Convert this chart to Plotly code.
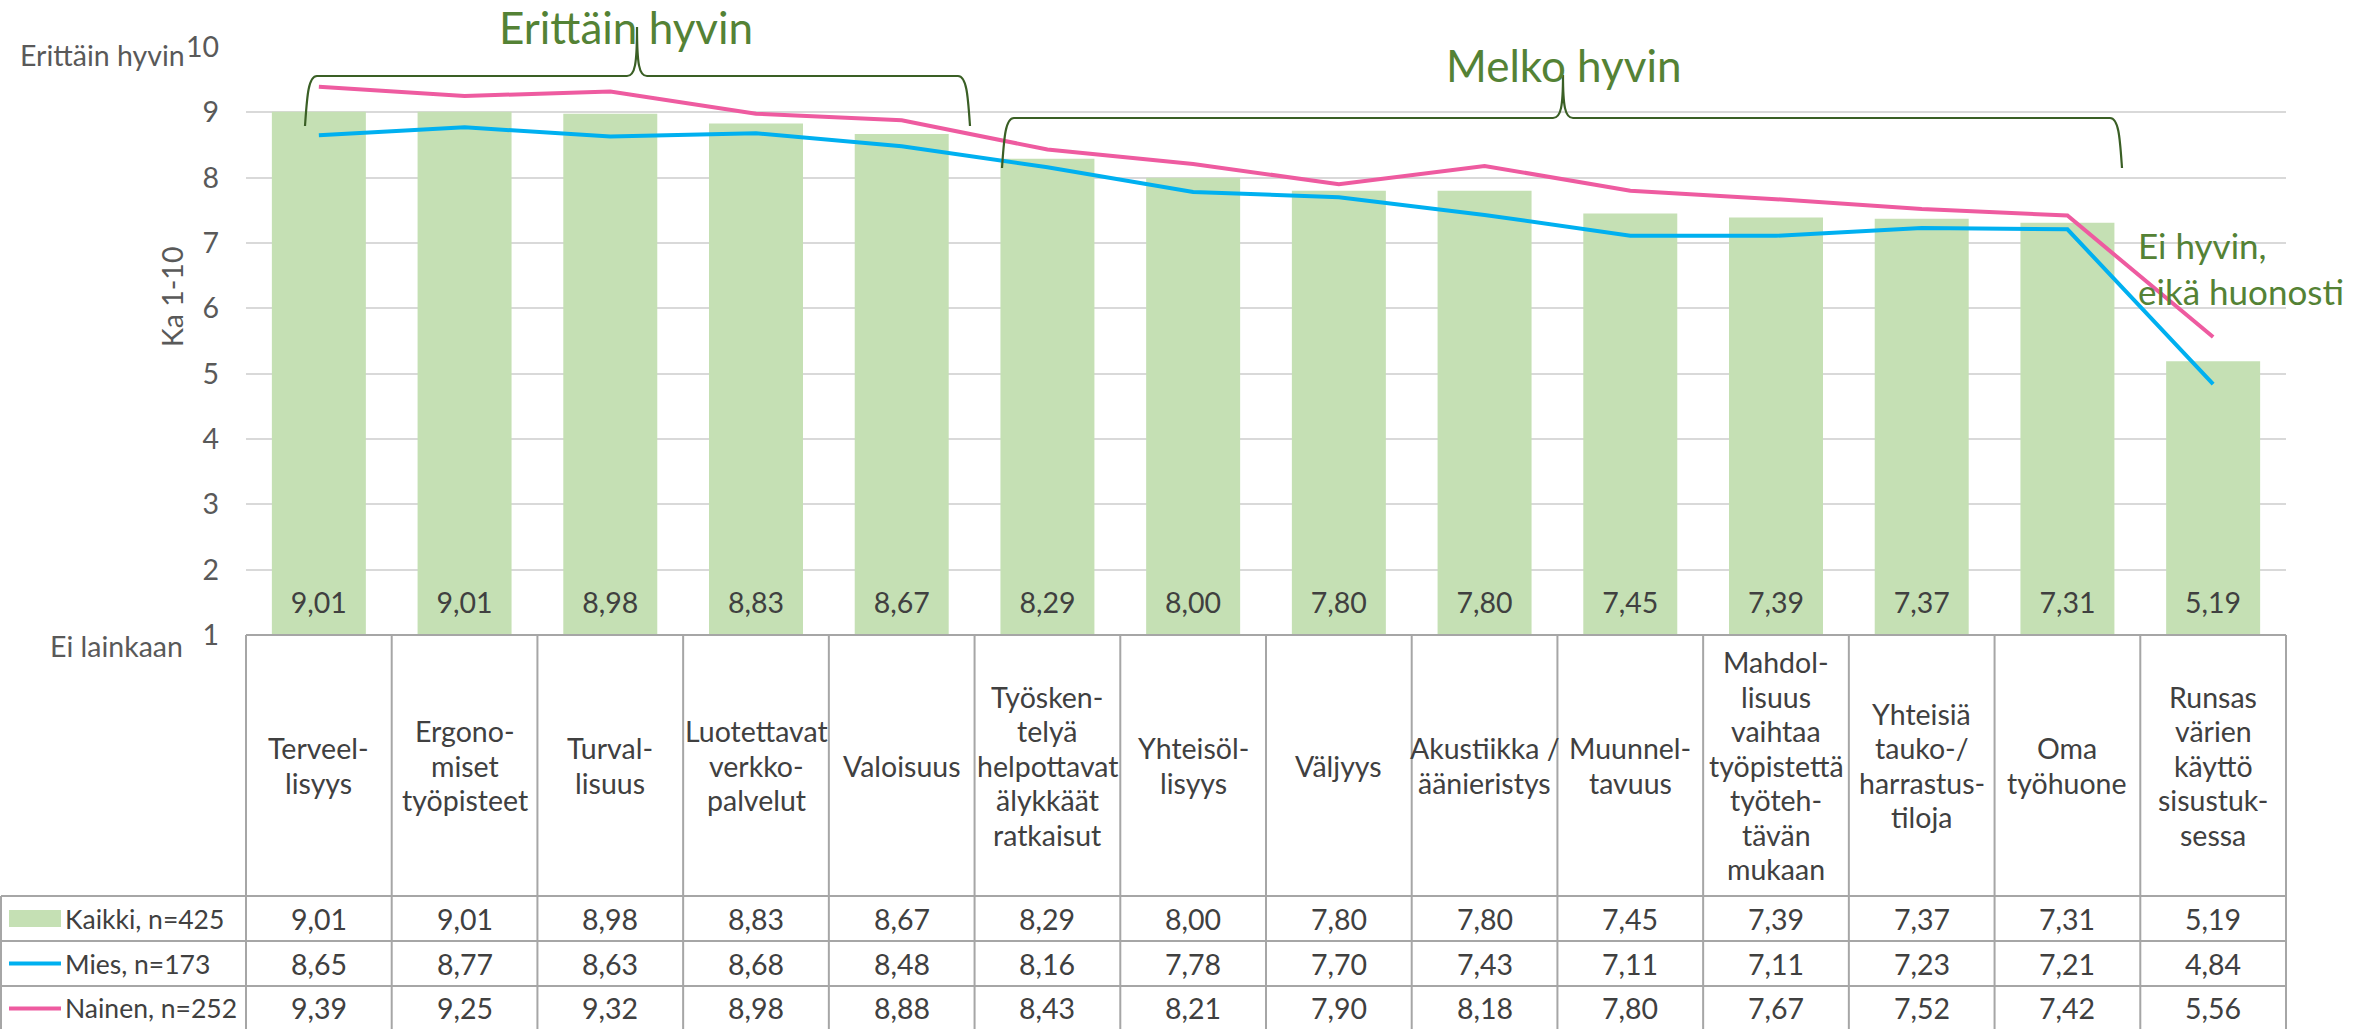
import plotly.graph_objects as go

# ---------------- data ----------------
categories = [
    "Terveel-<br>lisyys",
    "Ergono-<br>miset<br>työpisteet",
    "Turval-<br>lisuus",
    "Luotettavat<br>verkko-<br>palvelut",
    "Valoisuus",
    "Työsken-<br>telyä<br>helpottavat<br>älykkäät<br>ratkaisut",
    "Yhteisöl-<br>lisyys",
    "Väljyys",
    "Akustiikka /<br>äänieristys",
    "Muunnel-<br>tavuus",
    "Mahdol-<br>lisuus<br>vaihtaa<br>työpistettä<br>työteh-<br>tävän<br>mukaan",
    "Yhteisiä<br>tauko-/<br>harrastus-<br>tiloja",
    "Oma<br>työhuone",
    "Runsas<br>värien<br>käyttö<br>sisustuk-<br>sessa",
]
kaikki = [9.01, 9.01, 8.98, 8.83, 8.67, 8.29, 8.00, 7.80, 7.80, 7.45, 7.39, 7.37, 7.31, 5.19]
mies = [8.65, 8.77, 8.63, 8.68, 8.48, 8.16, 7.78, 7.70, 7.43, 7.11, 7.11, 7.23, 7.21, 4.84]
nainen = [9.39, 9.25, 9.32, 8.98, 8.88, 8.43, 8.21, 7.90, 8.18, 7.80, 7.67, 7.52, 7.42, 5.56]
series_names = ["Kaikki, n=425", "Mies, n=173", "Nainen, n=252"]
y_ticks = list(range(1, 11))

# ---------------- styles ----------------
FONT = "Lato"
BAR_C = "#C5E0B4"
MIES_C = "#00B0F0"
NAINEN_C = "#EE5BA0"
TXT = "#404040"
AX_TXT = "#595959"
GREEN_TXT = "#548235"
BRACE_C = "#3A5F25"
GRID_C = "#D9D9D9"
TABLE_C = "#A6A6A6"
FS = 28.5

W, H = 2366, 1029
ML, MR, MT, MB = 246, 80, 47, 394
PL, PR, PT, PB = ML, W - MR, MT, H - MB


def px(X):
    return (X - PL) / (PR - PL)


def py(Y):
    return (PB - Y) / (PB - PT)


def fmt(v):
    return f"{v:.2f}".replace(".", ",")


n = len(categories)
idx = list(range(n))

fig = go.Figure()
fig.add_trace(go.Bar(x=idx, y=kaikki, name=series_names[0], marker_color=BAR_C,
                     marker_line_width=0, width=0.645))
fig.add_trace(go.Scatter(x=idx, y=mies, name=series_names[1], mode="lines",
                         line=dict(color=MIES_C, width=4)))
fig.add_trace(go.Scatter(x=idx, y=nainen, name=series_names[2], mode="lines",
                         line=dict(color=NAINEN_C, width=4)))
# value labels at the foot of the bars
fig.add_trace(go.Scatter(x=idx, y=[1.45] * n, mode="text", text=[fmt(v) for v in kaikki],
                         textfont=dict(family=FONT, size=FS, color=TXT), hoverinfo="skip"))

shapes = []
annotations = []

# ---- table grid ----
ROW_TOP = 635
ROW_HDR_BOT = 896
ROWS = [896, 941, 986, 1031]
LEFT = 1
line_style = dict(color=TABLE_C, width=2)
shapes.append(dict(type="line", xref="paper", yref="paper", x0=0, x1=1,
                   y0=py(ROW_TOP), y1=py(ROW_TOP), line=line_style, layer="above"))
for Y in ROWS[:-1]:
    shapes.append(dict(type="line", xref="paper", yref="paper", x0=px(LEFT), x1=1,
                       y0=py(Y), y1=py(Y), line=line_style))
for i in range(n + 1):
    shapes.append(dict(type="line", xref="paper", yref="paper", x0=i / n, x1=i / n,
                       y0=py(ROW_TOP), y1=py(H + 2), line=line_style))
shapes.append(dict(type="line", xref="paper", yref="paper", x0=px(LEFT), x1=px(LEFT),
                   y0=py(ROW_HDR_BOT), y1=py(H + 2), line=line_style))

# category labels (one annotation per text line, Excel-like line spacing)
LINE_H = 34.5
hdr_mid = (ROW_TOP + ROW_HDR_BOT) / 2
for i, c in enumerate(categories):
    parts = c.split("<br>")
    m = len(parts)
    for k, part in enumerate(parts):
        Y = hdr_mid + (k - (m - 1) / 2) * LINE_H
        annotations.append(dict(x=(i + 0.5) / n, y=py(Y), xref="paper", yref="paper",
                                text=part, showarrow=False, xanchor="center", yanchor="middle",
                                font=dict(family=FONT, size=FS, color=TXT)))

# table values + legend row headers
row_centres = [(ROWS[k] + ROWS[k + 1]) / 2 for k in range(3)]
for r, (vals, name) in enumerate(zip([kaikki, mies, nainen], series_names)):
    yc = py(row_centres[r])
    for i, v in enumerate(vals):
        annotations.append(dict(x=(i + 0.5) / n, y=yc, xref="paper", yref="paper", text=fmt(v),
                                showarrow=False, xanchor="center", yanchor="middle",
                                font=dict(family=FONT, size=FS, color=TXT)))
    annotations.append(dict(x=px(63), y=yc, xref="paper", yref="paper", text=name, showarrow=False,
                            xanchor="left", yanchor="middle", font=dict(family=FONT, size=26.5, color=TXT)))

# legend keys
shapes.append(dict(type="rect", xref="paper", yref="paper", x0=px(9), x1=px(61),
                   y0=py(row_centres[0] + 8.5), y1=py(row_centres[0] - 8.5),
                   fillcolor=BAR_C, line=dict(width=0)))
for r, col in [(1, MIES_C), (2, NAINEN_C)]:
    shapes.append(dict(type="line", xref="paper", yref="paper", x0=px(9), x1=px(61),
                       y0=py(row_centres[r]), y1=py(row_centres[r]), line=dict(color=col, width=4)))

# ---- axis side texts ----
annotations.append(dict(x=px(187), y=py(55), xref="paper", yref="paper", text="Erittäin hyvin",
                        showarrow=False, xanchor="right", yanchor="middle",
                        font=dict(family=FONT, size=FS, color=AX_TXT)))
annotations.append(dict(x=px(185), y=py(646), xref="paper", yref="paper", text="Ei lainkaan",
                        showarrow=False, xanchor="right", yanchor="middle",
                        font=dict(family=FONT, size=FS, color=AX_TXT)))
annotations.append(dict(x=px(172), y=py(297), xref="paper", yref="paper", text="Ka 1-10",
                        showarrow=False, textangle=-90, xanchor="center", yanchor="middle",
                        font=dict(family=FONT, size=FS, color=AX_TXT)))

# ---- green group labels ----
annotations.append(dict(x=px(626), y=py(27), xref="paper", yref="paper", text="Erittäin hyvin",
                        showarrow=False, xanchor="center", yanchor="middle",
                        font=dict(family=FONT, size=44, color=GREEN_TXT)))
annotations.append(dict(x=px(1564), y=py(65), xref="paper", yref="paper", text="Melko hyvin",
                        showarrow=False, xanchor="center", yanchor="middle",
                        font=dict(family=FONT, size=44, color=GREEN_TXT)))
annotations.append(dict(x=px(2136), y=py(268), xref="paper", yref="paper", text="Ei hyvin,<br>eikä huonosti",
                        showarrow=False, xanchor="left", yanchor="middle", align="left",
                        font=dict(family=FONT, size=35, color=GREEN_TXT)))


# ---- curly braces ----
def brace(x0, x1, xm, ybot, yh, ytip):
    pts = [
        ("M", [(x0, ybot)]),
        ("C", [(x0 + 2, yh + 22), (x0 + 3, yh), (x0 + 12, yh)]),
        ("L", [(xm - 10, yh)]),
        ("C", [(xm - 2, yh), (xm, yh - 12), (xm, ytip)]),
        ("C", [(xm, yh - 12), (xm + 2, yh), (xm + 10, yh)]),
        ("L", [(x1 - 12, yh)]),
        ("C", [(x1 - 3, yh), (x1 - 2, yh + 22), (x1, ybot)]),
    ]
    s = ""
    for cmd, ps in pts:
        s += cmd + " " + " ".join(f"{px(X):.5f},{py(Y):.5f}" for X, Y in ps) + " "
    return s.strip()


shapes.append(dict(type="path", xref="paper", yref="paper", path=brace(305, 970, 637, 126, 76, 27),
                   line=dict(color=BRACE_C, width=2.2)))
shapes.append(dict(type="path", xref="paper", yref="paper", path=brace(1002, 2122, 1563, 168, 118, 75),
                   line=dict(color=BRACE_C, width=2.2)))

fig.update_layout(
    width=W, height=H,
    margin=dict(l=ML, r=MR, t=MT, b=MB, pad=0),
    plot_bgcolor="white", paper_bgcolor="white",
    showlegend=False,
    shapes=shapes, annotations=annotations,
    xaxis=dict(range=[-0.5, n - 0.5], showticklabels=False, showgrid=False, zeroline=False,
               showline=False, ticks=""),
    yaxis=dict(range=[1, 10], tickvals=y_ticks, showgrid=True, gridcolor=GRID_C, gridwidth=2,
               zeroline=False, showline=False, ticks="", ticklabelstandoff=26, automargin=False,
               tickfont=dict(family=FONT, size=FS, color=AX_TXT)),
    font=dict(family=FONT, color=TXT),
)

fig.write_html("out.html", config={"displayModeBar": False},
               post_script="document.body.style.margin='0px';document.body.style.padding='0px';"
                           "document.body.style.overflow='hidden';")
